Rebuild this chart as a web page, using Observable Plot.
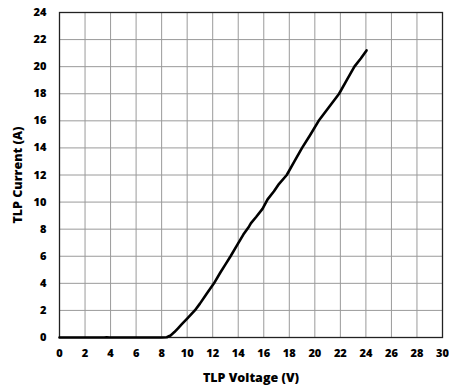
<!DOCTYPE html>
<html>
<head>
<meta charset="utf-8">
<script src="https://cdn.jsdelivr.net/npm/d3@7"></script>
<script src="https://cdn.jsdelivr.net/npm/@observablehq/plot@0.6"></script>
<style>
  html, body { margin: 0; padding: 0; background: #fff; }
</style>
</head>
<body>
<div id="chart"></div>
<script>
const voltage = [0, 2, 3.5, 3.7, 3.9, 6, 8, 8.4, 8.7, 9.0, 9.3, 9.6, 10.0, 10.6, 11.0, 11.5, 12.1, 12.6, 13.0, 13.4, 13.9, 14.4, 14.85, 15.0, 15.4, 15.9, 16.3, 16.8, 17.2, 17.8, 18.4, 19.0, 19.6, 20.3, 21.1, 21.9, 22.5, 23.1, 23.6, 24.05];
const current = [0, 0, 0, 0.02, 0, 0, 0, 0.02, 0.15, 0.4, 0.7, 1.0, 1.4, 2.0, 2.5, 3.2, 4.0, 4.8, 5.4, 6.0, 6.8, 7.6, 8.2, 8.45, 8.9, 9.5, 10.2, 10.8, 11.35, 12.0, 13.0, 14.0, 14.9, 16.0, 17.0, 18.0, 19.0, 20.0, 20.6, 21.2];
const xTicks = [0, 2, 4, 6, 8, 10, 12, 14, 16, 18, 20, 22, 24, 26, 28, 30];
const yTicks = [0, 2, 4, 6, 8, 10, 12, 14, 16, 18, 20, 22, 24];

const data = voltage.map((v, i) => ({v, c: current[i]}));

const chart = Plot.plot({
  width: 449,
  height: 390,
  marginLeft: 59,
  marginRight: 7,
  marginTop: 12,
  marginBottom: 53,
  style: {fontFamily: "'Open Sans', Lato, sans-serif", fontWeight: "800", fontSize: "11px", color: "#000", background: "#fff"},
  x: {domain: [0, 30]},
  y: {domain: [0, 24]},
  marks: [
    Plot.gridX(xTicks, {stroke: "#9a9a9a", strokeOpacity: 1, strokeWidth: 1}),
    Plot.gridY(yTicks, {stroke: "#9a9a9a", strokeOpacity: 1, strokeWidth: 1}),
    Plot.frame({stroke: "#222", strokeWidth: 1.3}),
    Plot.line(data, {x: "v", y: "c", stroke: "#000", strokeWidth: 2.6, strokeLinejoin: "round", strokeLinecap: "round"}),
    Plot.axisX({ticks: xTicks, tickSize: 0, tickPadding: 12, tickFormat: d => String(d), fontSize: 11,
      label: "TLP Voltage (V)", labelAnchor: "center", labelArrow: "none", labelOffset: 44}),
    Plot.axisY({ticks: yTicks, tickSize: 0, tickPadding: 13, tickFormat: d => String(d), fontSize: 11,
      label: "TLP Current (A)", labelAnchor: "center", labelArrow: "none", labelOffset: 46})
  ]
});
chart.querySelectorAll("g[aria-label='x-axis label'] text, g[aria-label='y-axis label'] text").forEach(t => t.setAttribute("font-size", "12.5"));
document.getElementById("chart").appendChild(chart);
</script>
</body>
</html>
